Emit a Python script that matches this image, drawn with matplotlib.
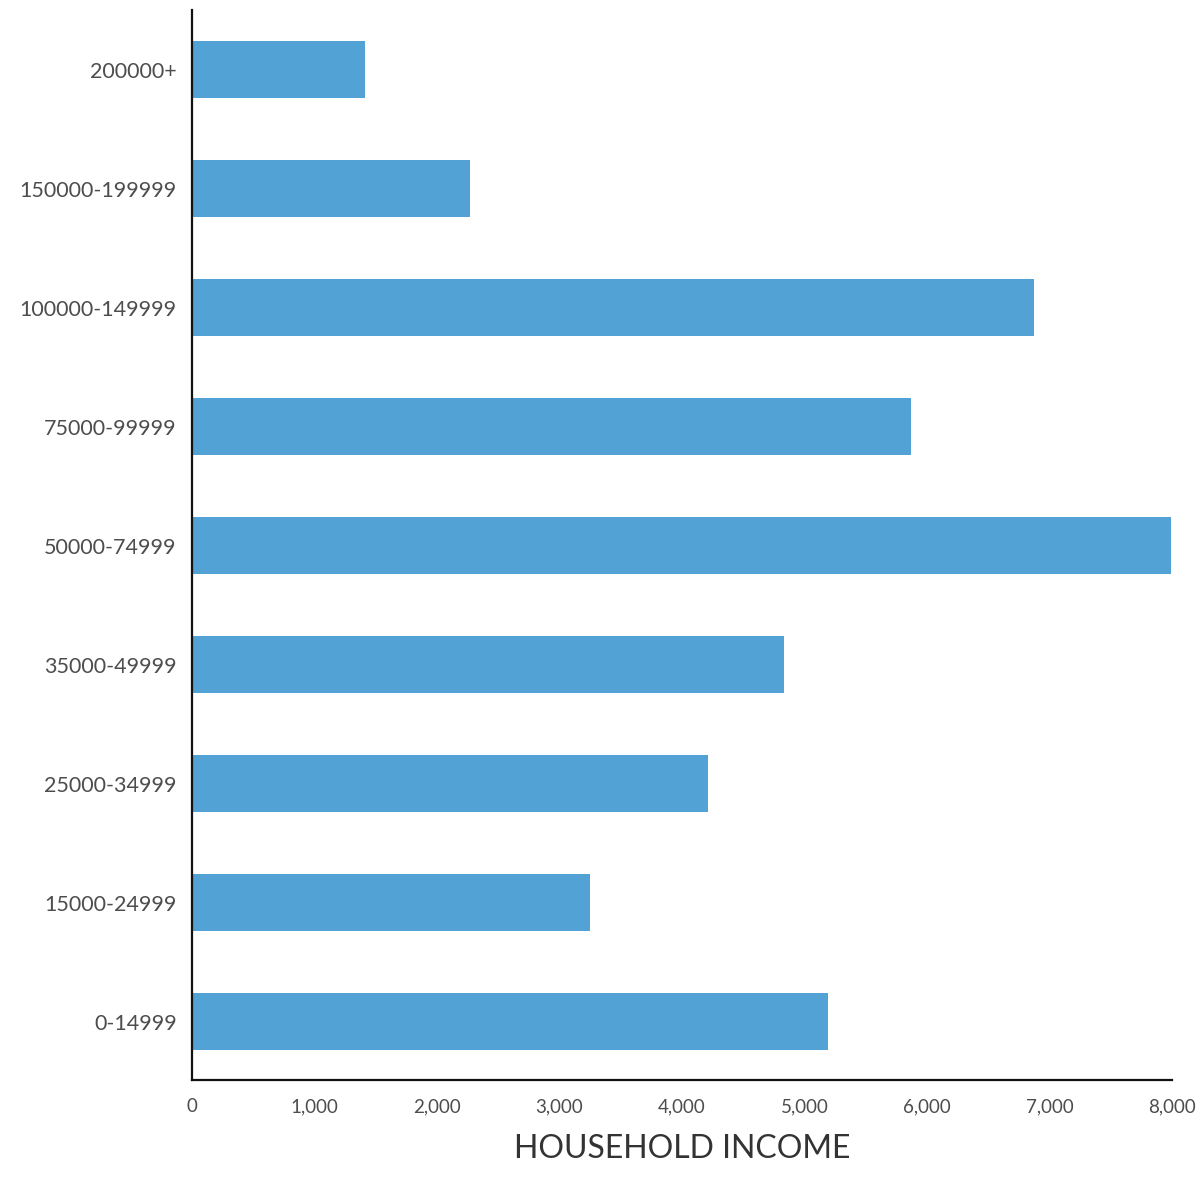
import matplotlib
matplotlib.use('Agg')
import matplotlib.pyplot as plt
from matplotlib.ticker import FuncFormatter

# household income brackets (bottom to top) and counts
income_brackets = ['0-14999', '15000-24999', '25000-34999', '35000-49999',
                   '50000-74999', '75000-99999', '100000-149999',
                   '150000-199999', '200000+']
households = [5190, 3250, 4210, 4830, 7990, 5870, 6870, 2270, 1410]
x_ticks = [0, 1000, 2000, 3000, 4000, 5000, 6000, 7000, 8000]

plt.rcParams['font.family'] = ['Lato', 'DejaVu Sans']

fig = plt.figure(figsize=(12.03, 11.94), dpi=100)
ax = fig.add_axes([0.1596, 0.0955, 0.8146, 0.8961])

ax.barh(income_brackets, households, height=0.48, color='#52a2d6')

ax.set_xlim(0, 8000)
ax.set_ylim(-0.49, 8.5)
ax.set_xticks(x_ticks)
ax.xaxis.set_major_formatter(FuncFormatter(lambda v, p: f'{int(v):,}'))

for side in ['top', 'right']:
    ax.spines[side].set_visible(False)
for side in ['left', 'bottom']:
    ax.spines[side].set_linewidth(1.6)
    ax.spines[side].set_color('#111111')

ax.tick_params(axis='both', length=0, labelcolor='#4d4d4d')
ax.tick_params(axis='x', pad=13, labelsize=13.5)
ax.tick_params(axis='y', pad=11, labelsize=15.5)

ax.set_xlabel('HOUSEHOLD INCOME', fontsize=23, color='#333333', labelpad=14)

fig.savefig('out.png', dpi=100)
